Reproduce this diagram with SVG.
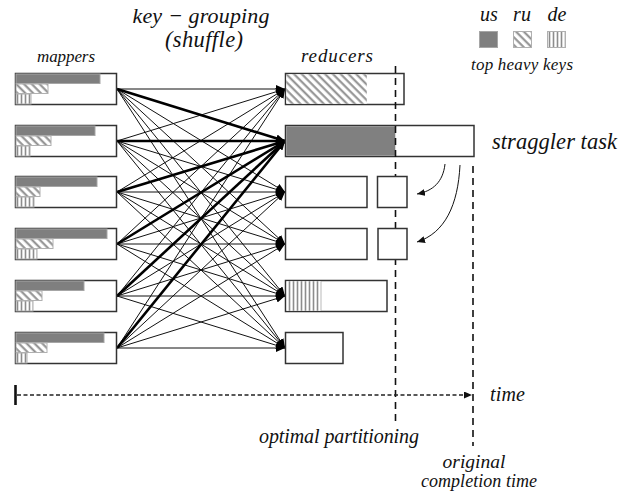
<svg xmlns="http://www.w3.org/2000/svg" width="636" height="491" viewBox="0 0 636 491">
  <style>
    .lbl { font-family: "Liberation Serif", "DejaVu Serif", serif; font-style: italic; fill: #111; }
    .box { fill: #fff; stroke: #333; stroke-width: 1.5; }
    .us { fill: #7f7f7f; stroke: #a6a6a6; stroke-width: 1; }
    .ru { fill: url(#ru); stroke: #b0b0b0; stroke-width: 1; }
    .de { fill: url(#de); stroke: #b0b0b0; stroke-width: 1; }
    .thin { stroke: #111; stroke-width: 1; fill: none; }
    .thick { stroke: #000; stroke-width: 2.6; fill: none; }
    .vdash { stroke: #111; stroke-width: 1.6; stroke-dasharray: 7 5; fill: none; }
  </style>
  <defs>
    <pattern id="ru" width="5.5" height="5.5" patternUnits="userSpaceOnUse" patternTransform="rotate(-45)">
      <rect width="5.5" height="5.5" fill="#fff"/>
      <line x1="1.5" y1="0" x2="1.5" y2="5.5" stroke="#8c8c8c" stroke-width="2"/>
    </pattern>
    <pattern id="de" width="4" height="4" patternUnits="userSpaceOnUse">
      <rect width="4" height="4" fill="#fff"/>
      <line x1="1.5" y1="0" x2="1.5" y2="4" stroke="#8c8c8c" stroke-width="1.6"/>
    </pattern>
    <marker id="ah" markerUnits="userSpaceOnUse" markerWidth="9" markerHeight="8" refX="9" refY="4" orient="auto">
      <path d="M0,0 L9,4 L0,8 z" fill="#000"/>
    </marker>
    <marker id="ahs" markerUnits="userSpaceOnUse" markerWidth="8" markerHeight="7" refX="8" refY="3.5" orient="auto">
      <path d="M0,0 L8,3.5 L0,7 z" fill="#111"/>
    </marker>
  </defs>

  <!-- headings -->
  <text class="lbl" x="201" y="23" font-size="22" text-anchor="middle" textLength="137">key − grouping</text>
  <text class="lbl" x="204" y="47" font-size="22.5" text-anchor="middle" textLength="78">(shuffle)</text>
  <text class="lbl" x="66" y="62" font-size="17" text-anchor="middle" textLength="58">mappers</text>
  <text class="lbl" x="337" y="62" font-size="19" text-anchor="middle" textLength="72">reducers</text>

  <!-- legend -->
  <g id="legend">
    <text class="lbl" x="489" y="21" font-size="20" text-anchor="middle">us</text>
    <text class="lbl" x="522" y="21" font-size="20" text-anchor="middle">ru</text>
    <text class="lbl" x="557" y="21" font-size="20" text-anchor="middle">de</text>
    <rect class="us" x="479.5" y="31.5" width="18" height="16"/>
    <rect class="ru" x="513.5" y="31.5" width="18" height="16"/>
    <rect class="de" x="547.5" y="31.5" width="18" height="16"/>
    <text class="lbl" x="522" y="70" font-size="17" text-anchor="middle" textLength="102">top heavy keys</text>
  </g>

  <!-- connectors: every mapper feeds every reducer; the "us" reducer gets heavy traffic -->
  <g id="connectors">
    <line class="thin" x1="117" y1="89" x2="285" y2="89" marker-end="url(#ah)"/>
    <line class="thin" x1="117" y1="89" x2="285" y2="192" marker-end="url(#ah)"/>
    <line class="thin" x1="117" y1="89" x2="285" y2="244" marker-end="url(#ah)"/>
    <line class="thin" x1="117" y1="89" x2="285" y2="296" marker-end="url(#ah)"/>
    <line class="thin" x1="117" y1="89" x2="285" y2="348" marker-end="url(#ah)"/>

    <line class="thin" x1="117" y1="141" x2="285" y2="89" marker-end="url(#ah)"/>
    <line class="thin" x1="117" y1="141" x2="285" y2="192" marker-end="url(#ah)"/>
    <line class="thin" x1="117" y1="141" x2="285" y2="244" marker-end="url(#ah)"/>
    <line class="thin" x1="117" y1="141" x2="285" y2="296" marker-end="url(#ah)"/>
    <line class="thin" x1="117" y1="141" x2="285" y2="348" marker-end="url(#ah)"/>

    <line class="thin" x1="117" y1="192" x2="285" y2="89" marker-end="url(#ah)"/>
    <line class="thin" x1="117" y1="192" x2="285" y2="192" marker-end="url(#ah)"/>
    <line class="thin" x1="117" y1="192" x2="285" y2="244" marker-end="url(#ah)"/>
    <line class="thin" x1="117" y1="192" x2="285" y2="296" marker-end="url(#ah)"/>
    <line class="thin" x1="117" y1="192" x2="285" y2="348" marker-end="url(#ah)"/>

    <line class="thin" x1="117" y1="244" x2="285" y2="89" marker-end="url(#ah)"/>
    <line class="thin" x1="117" y1="244" x2="285" y2="192" marker-end="url(#ah)"/>
    <line class="thin" x1="117" y1="244" x2="285" y2="244" marker-end="url(#ah)"/>
    <line class="thin" x1="117" y1="244" x2="285" y2="296" marker-end="url(#ah)"/>
    <line class="thin" x1="117" y1="244" x2="285" y2="348" marker-end="url(#ah)"/>

    <line class="thin" x1="117" y1="296" x2="285" y2="89" marker-end="url(#ah)"/>
    <line class="thin" x1="117" y1="296" x2="285" y2="192" marker-end="url(#ah)"/>
    <line class="thin" x1="117" y1="296" x2="285" y2="244" marker-end="url(#ah)"/>
    <line class="thin" x1="117" y1="296" x2="285" y2="296" marker-end="url(#ah)"/>
    <line class="thin" x1="117" y1="296" x2="285" y2="348" marker-end="url(#ah)"/>

    <line class="thin" x1="117" y1="348" x2="285" y2="89" marker-end="url(#ah)"/>
    <line class="thin" x1="117" y1="348" x2="285" y2="192" marker-end="url(#ah)"/>
    <line class="thin" x1="117" y1="348" x2="285" y2="244" marker-end="url(#ah)"/>
    <line class="thin" x1="117" y1="348" x2="285" y2="296" marker-end="url(#ah)"/>
    <line class="thin" x1="117" y1="348" x2="285" y2="348" marker-end="url(#ah)"/>

    <line class="thick" x1="117" y1="89" x2="285" y2="141" stroke-width="3.2" marker-end="url(#ah)"/>
    <line class="thick" x1="117" y1="141" x2="285" y2="141" marker-end="url(#ah)"/>
    <line class="thick" x1="117" y1="192" x2="285" y2="141" marker-end="url(#ah)"/>
    <line class="thick" x1="117" y1="244" x2="285" y2="141" stroke-width="3.2" marker-end="url(#ah)"/>
    <line class="thick" x1="117" y1="296" x2="285" y2="141" marker-end="url(#ah)"/>
    <line class="thick" x1="117" y1="348" x2="285" y2="141" marker-end="url(#ah)"/>
  </g>

  <!-- mappers -->
  <g id="mapper1">
    <rect class="box" x="15.5" y="73.5" width="101" height="31"/>
    <rect class="us" x="16" y="74" width="84" height="9.5"/>
    <rect class="ru" x="16" y="84" width="32" height="9.5"/>
    <rect class="de" x="16" y="94" width="15" height="10"/>
  </g>
  <g id="mapper2">
    <rect class="box" x="15.5" y="125.5" width="101" height="31"/>
    <rect class="us" x="16" y="126" width="79" height="9.5"/>
    <rect class="ru" x="16" y="136" width="35" height="9.5"/>
    <rect class="de" x="16" y="146" width="14" height="10"/>
  </g>
  <g id="mapper3">
    <rect class="box" x="15.5" y="176.5" width="101" height="31"/>
    <rect class="us" x="16" y="177" width="81" height="9.5"/>
    <rect class="ru" x="16" y="187" width="24" height="9.5"/>
    <rect class="de" x="16" y="197" width="18" height="10"/>
  </g>
  <g id="mapper4">
    <rect class="box" x="15.5" y="228.5" width="101" height="31"/>
    <rect class="us" x="16" y="229" width="91" height="9.5"/>
    <rect class="ru" x="16" y="239" width="37" height="9.5"/>
    <rect class="de" x="16" y="249" width="21" height="10"/>
  </g>
  <g id="mapper5">
    <rect class="box" x="15.5" y="280.5" width="101" height="31"/>
    <rect class="us" x="16" y="281" width="68" height="9.5"/>
    <rect class="ru" x="16" y="291" width="26" height="9.5"/>
    <rect class="de" x="16" y="301" width="17" height="10"/>
  </g>
  <g id="mapper6">
    <rect class="box" x="15.5" y="332.5" width="101" height="31"/>
    <rect class="us" x="16" y="333" width="88" height="9.5"/>
    <rect class="ru" x="16" y="343" width="31" height="9.5"/>
    <rect class="de" x="16" y="353" width="11" height="10"/>
  </g>

  <!-- reducers -->
  <g id="reducer1">
    <rect class="box" x="285.5" y="73.5" width="118.5" height="31"/>
    <rect x="286.3" y="74.3" width="80.5" height="29.4" fill="url(#ru)"/>
  </g>
  <g id="reducer2">
    <rect class="box" x="285.5" y="125.5" width="188.5" height="31"/>
    <rect x="286.3" y="126.3" width="109" height="29.4" fill="#808080"/>
  </g>
  <g id="reducer3">
    <rect class="box" x="285.5" y="176.5" width="81.5" height="31"/>
  </g>
  <g id="reducer4">
    <rect class="box" x="285.5" y="228.5" width="81.5" height="31"/>
  </g>
  <g id="reducer5">
    <rect class="box" x="285.5" y="280.5" width="101.5" height="31"/>
    <rect x="286.3" y="281.3" width="35" height="29.4" fill="url(#de)"/>
  </g>
  <g id="reducer6">
    <rect class="box" x="285.5" y="332.5" width="57.5" height="31"/>
  </g>

  <!-- time markers (the split-off tasks sit on top of the first one) -->
  <line class="vdash" x1="395.5" y1="66" x2="395.5" y2="423"/>
  <line class="vdash" x1="473" y1="166" x2="473" y2="446"/>

  <g id="reducer3b">
    <rect class="box" x="377.5" y="176.5" width="29.5" height="31"/>
  </g>
  <g id="reducer4b">
    <rect class="box" x="378" y="228.5" width="29" height="31"/>
  </g>

  <text class="lbl" x="492" y="149" font-size="22.5" textLength="125">straggler task</text>

  <!-- work moved off the straggler -->
  <g id="split-arrows">
    <path class="thin" d="M445,164 C443,182 433,191 417,194" marker-end="url(#ahs)"/>
    <path class="thin" d="M460,165 C458,205 445,233 417,242" marker-end="url(#ahs)"/>
  </g>

  <g id="time-axis">
    <line x1="15.5" y1="385" x2="15.5" y2="405" stroke="#111" stroke-width="2.6"/>
    <line x1="17" y1="395" x2="472" y2="395" stroke="#222" stroke-width="1.3" stroke-dasharray="4 2.5" marker-end="url(#ahs)"/>
  </g>
  <text class="lbl" x="490" y="401" font-size="20" textLength="35">time</text>
  <text class="lbl" x="259" y="443" font-size="20" textLength="160">optimal partitioning</text>
  <text class="lbl" x="474" y="468" font-size="19.5" text-anchor="middle" textLength="63">original</text>
  <text class="lbl" x="479" y="487" font-size="18" text-anchor="middle" textLength="116">completion time</text>
</svg>
